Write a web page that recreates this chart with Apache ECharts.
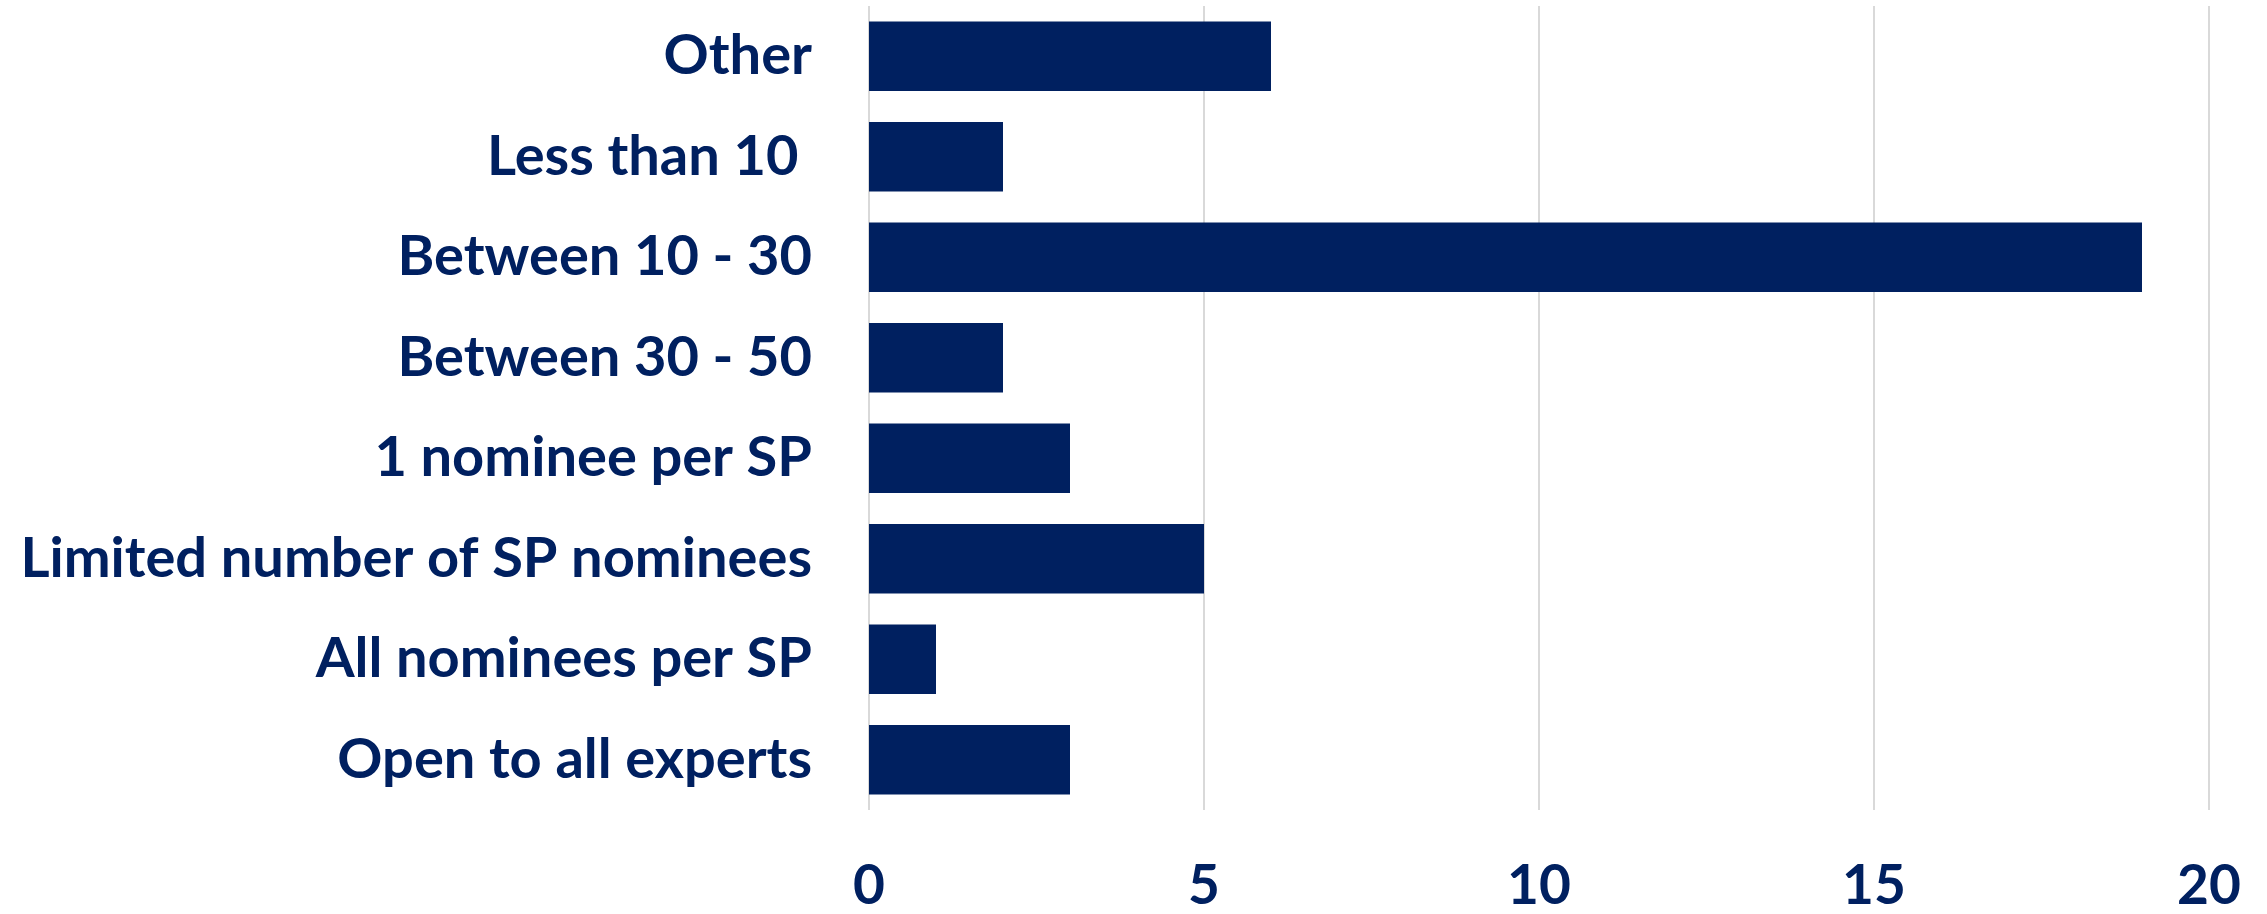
<!DOCTYPE html>
<html>
<head>
<meta charset="utf-8">
<script src="https://cdn.jsdelivr.net/npm/echarts@6/dist/echarts.min.js"></script>
<style>
html,body{margin:0;padding:0;background:#fff;}
#c{width:2267px;height:914px;}
</style>
</head>
<body>
<div id="c"></div>
<script>
const categories = ["Other", "Less than 10 ", "Between 10 - 30", "Between 30 - 50", "1 nominee per SP", "Limited number of SP nominees", "All nominees per SP", "Open to all experts"];
const values = [6, 2, 19, 2, 3, 5, 1, 3];
const xTicks = [0, 5, 10, 15, 20];

const navy = '#002060';
const font = 'Lato';
const chart = echarts.init(document.getElementById('c'), null, {renderer: 'canvas'});
chart.setOption({
  animation: false,
  backgroundColor: '#ffffff',
  grid: {left: 869, right: 58, top: 6, bottom: 101, containLabel: false},
  xAxis: {
    type: 'value',
    min: xTicks[0],
    max: xTicks[xTicks.length - 1],
    interval: 5,
    axisLine: {show: false},
    axisTick: {show: false},
    splitLine: {show: true, lineStyle: {color: '#d9d9d9', width: 2}},
    axisLabel: {color: navy, fontFamily: font, fontWeight: 'bold', fontSize: 55, margin: 49}
  },
  yAxis: {
    type: 'category',
    data: categories,
    inverse: true,
    axisLine: {show: false},
    axisTick: {show: false},
    axisLabel: {color: navy, fontFamily: font, fontWeight: 'bold', fontSize: 56, margin: 57}
  },
  series: [{
    type: 'bar',
    data: values,
    barCategoryGap: '31%',
    itemStyle: {color: navy},
    silent: true
  }]
});
</script>
</body>
</html>
